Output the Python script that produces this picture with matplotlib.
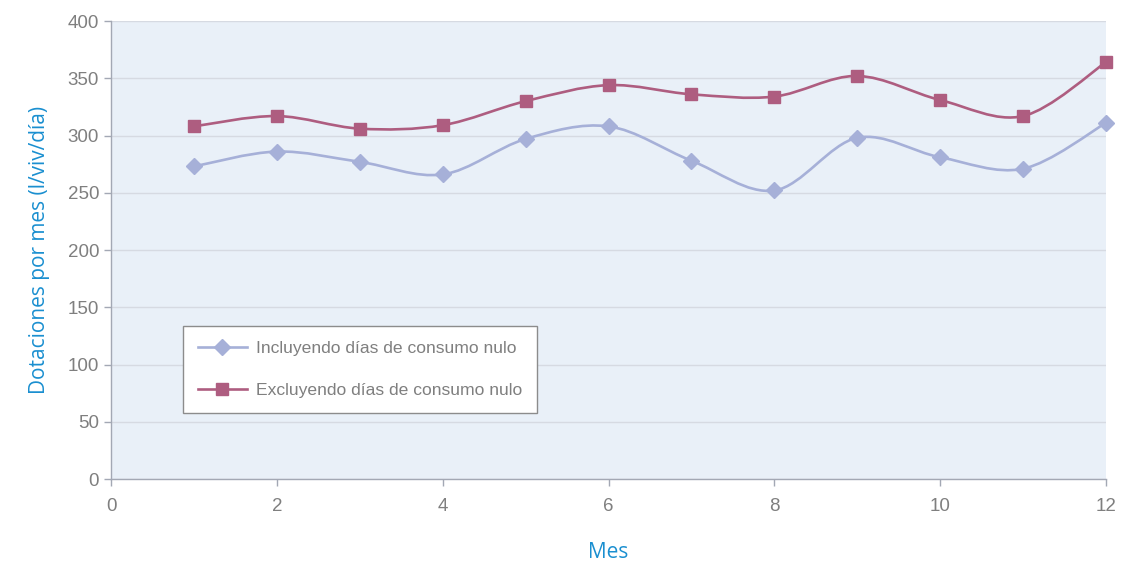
import numpy as np
import matplotlib.pyplot as plt
from matplotlib.path import Path
from matplotlib.patches import PathPatch
from matplotlib.lines import Line2D

# Data
meses = [1, 2, 3, 4, 5, 6, 7, 8, 9, 10, 11, 12]
incluyendo = [273, 286, 277, 266, 297, 308, 278, 252, 298, 281, 271, 311]
excluyendo = [308, 317, 306, 309, 330, 344, 336, 334, 352, 331, 317, 364]

label_incl = "Incluyendo días de consumo nulo"
label_excl = "Excluyendo días de consumo nulo"

col_incl = "#A6B0D8"
col_excl = "#AE5D80"
col_text = "#7F7F7F"
col_blue = "#1A8FD0"


def smooth_path(x, y):
    # Excel-style smoothed line: cubic Bezier through every point
    pts = np.column_stack([x, y]).astype(float)
    n = len(pts)
    verts = [pts[0]]
    codes = [Path.MOVETO]
    for i in range(n - 1):
        p0 = pts[i - 1] if i > 0 else pts[i]
        p1 = pts[i]
        p2 = pts[i + 1]
        p3 = pts[i + 2] if i + 2 < n else pts[i + 1]
        c1 = p1 + (p2 - p0) / 6.0
        c2 = p2 - (p3 - p1) / 6.0
        verts += [c1, c2, p2]
        codes += [Path.CURVE4] * 3
    return Path(verts, codes)


fig = plt.figure(figsize=(11.42, 5.65), dpi=100)
ax = fig.add_axes([0.0972, 0.1522, 0.8713, 0.8106])
ax.set_facecolor("#E9F0F8")

ax.set_xlim(0, 12)
ax.set_ylim(0, 400)
ax.set_xticks(range(0, 13, 2))
ax.set_yticks(range(0, 401, 50))
ax.yaxis.grid(True, color="#D6DAE2", linewidth=1.0)
ax.set_axisbelow(True)

for s in ["top", "right"]:
    ax.spines[s].set_visible(False)
for s in ["left", "bottom"]:
    ax.spines[s].set_color("#A3A8B4")
    ax.spines[s].set_linewidth(1.0)
ax.tick_params(axis="both", colors="#A3A8B4", labelcolor=col_text,
               labelsize=13.5, length=5, width=1.0)
ax.tick_params(axis="x", pad=9)
for t in ax.get_xticklabels() + ax.get_yticklabels():
    t.set_family("Liberation Sans")

for yv, col, mk, ms in [(incluyendo, col_incl, "D", 8.5), (excluyendo, col_excl, "s", 8.5)]:
    ax.add_patch(PathPatch(smooth_path(meses, yv), facecolor="none",
                           edgecolor=col, linewidth=1.9, zorder=3))
    ax.plot(meses, yv, linestyle="none", marker=mk, markersize=ms,
            color=col, zorder=4, clip_on=False)

ax.set_ylabel("Dotaciones por mes (l/viv/día)", color=col_blue, fontsize=15,
              family="Open Sans", labelpad=13)
ax.set_xlabel("Mes", color=col_blue, fontsize=15, family="Open Sans", labelpad=19)

handles = [
    Line2D([], [], color=col_incl, linewidth=1.9, marker="D", markersize=8.5),
    Line2D([], [], color=col_excl, linewidth=1.9, marker="s", markersize=8.5),
]
leg = ax.legend(handles, [label_incl, label_excl], loc="lower left",
                bbox_to_anchor=(0.0724, 0.144), frameon=True, fancybox=False,
                framealpha=1.0,
                prop={"family": "Liberation Sans", "size": 12.6},
                labelcolor=col_text, handlelength=2.8, handletextpad=0.5,
                labelspacing=1.55, borderpad=0.85, borderaxespad=0)
leg.get_frame().set_edgecolor("#8C8C8C")
leg.get_frame().set_linewidth(1.0)
leg.get_frame().set_facecolor("white")

fig.savefig("out.png", dpi=100)
